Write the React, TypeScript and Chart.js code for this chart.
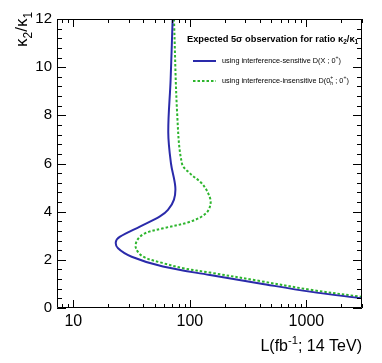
import React, { useEffect, useRef } from 'react';
import { Chart, registerables } from 'chart.js';

Chart.register(...registerables);

// Luminosity (fb^-1) and ratio kappa2/kappa1 for each curve
const blueL = [71.2, 68.4, 65.3, 68.9, 75.0, 73.1, 64.9, 55.4, 37.3, 25.2, 23.2, 24.2, 31.7, 58.8, 148.8, 399, 1072, 3000];
const blueV = [12, 9.47, 7.3, 6.0, 5.04, 4.5, 4.07, 3.8, 3.38, 2.96, 2.75, 2.48, 2.13, 1.72, 1.37, 1.02, 0.68, 0.4];

const greenL = [73.1, 78.0, 85.6, 100.2, 126.3, 143.8, 150.8, 137.5, 100.2, 59.2, 41.2, 35.4, 34.5, 39.8, 59.2, 87.8, 148.8, 399, 1072, 3000];
const greenV = [12, 8, 6.0, 5.59, 5.18, 4.76, 4.35, 3.93, 3.58, 3.31, 3.1, 2.82, 2.48, 2.13, 1.86, 1.65, 1.47, 1.12, 0.76, 0.46];

const xMin = 7.25;
const xMax = 3000;
const yMin = 0;
const yMax = 12;

const xMajorTicks = [10, 100, 1000];
const xMinorTicks = [8, 9, 20, 30, 40, 50, 60, 70, 80, 90, 200, 300, 400, 500, 600, 700, 800, 900, 2000, 3000];
const yMajorTicks = [0, 2, 4, 6, 8, 10, 12];
const yMinorTicks = [0.4, 0.8, 1.2, 1.6, 2.4, 2.8, 3.2, 3.6, 4.4, 4.8, 5.2, 5.6, 6.4, 6.8, 7.2, 7.6, 8.4, 8.8, 9.2, 9.6, 10.4, 10.8, 11.2, 11.6];

const seriesLabels = ['using interference-sensitive D(X ; 0', 'using interference-insensitive D(0'];
const legendTitle = 'Expected 5\u03c3 observation for ratio ';

const FONT = '"Liberation Sans", Arial, Helvetica, sans-serif';

type Part = { t: string; m?: 'sup' | 'sub' | 'supsub' };

function partsWidth(ctx: CanvasRenderingContext2D, parts: Part[], size: number, weight: string) {
  let w = 0;
  for (const p of parts) {
    const s = p.m ? size * 0.7 : size;
    ctx.font = `${weight} ${s}px ${FONT}`;
    if (p.m === 'supsub') {
      w += ctx.measureText(p.t.split('|')[0]).width;
    } else {
      w += ctx.measureText(p.t).width;
    }
  }
  return w;
}

function drawParts(ctx: CanvasRenderingContext2D, x: number, y: number, parts: Part[], size: number, weight: string) {
  let cx = x;
  for (const p of parts) {
    const s = p.m ? size * 0.7 : size;
    ctx.font = `${weight} ${s}px ${FONT}`;
    if (p.m === 'supsub') {
      const [a, b] = p.t.split('|');
      ctx.fillText(a, cx, y - size * 0.42);
      ctx.fillText(b, cx, y + size * 0.3);
      cx += ctx.measureText(a).width;
    } else {
      const dy = p.m === 'sup' ? -size * 0.42 : p.m === 'sub' ? size * 0.3 : 0;
      ctx.fillText(p.t, cx, y + dy);
      cx += ctx.measureText(p.t).width;
    }
  }
  return cx;
}

const rootStyle = {
  id: 'rootStyle',
  afterDatasetsDraw(chart: any) {
    const ctx: CanvasRenderingContext2D = chart.ctx;
    const { left, right, top, bottom } = chart.chartArea;
    const xs = chart.scales.x;
    const ys = chart.scales.y;
    ctx.save();
    ctx.strokeStyle = '#000';
    ctx.lineWidth = 1;
    ctx.beginPath();
    ctx.rect(left + 0.5, top + 0.5, right - left - 1, bottom - top - 1);
    ctx.stroke();

    ctx.beginPath();
    const xt = (v: number, len: number) => {
      const px = Math.round(xs.getPixelForValue(v)) + 0.5;
      ctx.moveTo(px, bottom);
      ctx.lineTo(px, bottom - len);
      ctx.moveTo(px, top);
      ctx.lineTo(px, top + len);
    };
    xMajorTicks.forEach((v) => xt(v, 8));
    xMinorTicks.forEach((v) => xt(v, 4));
    const yt = (v: number, len: number) => {
      const py = Math.round(ys.getPixelForValue(v)) + 0.5;
      ctx.moveTo(left, py);
      ctx.lineTo(left + len, py);
      ctx.moveTo(right, py);
      ctx.lineTo(right - len, py);
    };
    yMajorTicks.forEach((v) => yt(v, 9));
    yMinorTicks.forEach((v) => yt(v, 5));
    ctx.stroke();

    ctx.fillStyle = '#000';
    // y tick labels
    ctx.font = `15px ${FONT}`;
    ctx.textAlign = 'right';
    ctx.textBaseline = 'middle';
    yMajorTicks.forEach((v) => {
      ctx.fillText(String(v), left - 5, ys.getPixelForValue(v));
    });
    // x tick labels
    ctx.textAlign = 'center';
    ctx.textBaseline = 'top';
    ctx.font = `16px ${FONT}`;
    xMajorTicks.forEach((v) => {
      ctx.fillText(String(v), xs.getPixelForValue(v), bottom + 6);
    });

    // x title
    ctx.textAlign = 'left';
    ctx.textBaseline = 'alphabetic';
    const xTitle: Part[] = [{ t: 'L(fb' }, { t: '-1', m: 'sup' }, { t: '; 14 TeV)' }];
    const xw = partsWidth(ctx, xTitle, 16, 'normal');
    drawParts(ctx, right - xw, bottom + 43, xTitle, 16, 'normal');

    // y title (rotated)
    const yTitle: Part[] = [{ t: '\u03ba' }, { t: '2', m: 'sub' }, { t: '/\u03ba' }, { t: '1', m: 'sub' }];
    const yw = partsWidth(ctx, yTitle, 17, 'normal');
    ctx.save();
    ctx.translate(27, 0);
    ctx.rotate(-Math.PI / 2);
    drawParts(ctx, -(top - 7) - yw, 0, yTitle, 17, 'normal');
    ctx.restore();

    // legend
    const lt: Part[] = [{ t: legendTitle }, { t: '\u03ba' }, { t: '2', m: 'sub' }, { t: '/\u03ba' }, { t: '1', m: 'sub' }];
    ctx.textBaseline = 'middle';
    drawParts(ctx, 187, 39, lt, 9.3, 'bold');

    const rows = [61, 81];
    chart.data.datasets.forEach((ds: any, i: number) => {
      const y = rows[i];
      ctx.save();
      ctx.strokeStyle = ds.borderColor;
      ctx.lineWidth = ds.borderWidth;
      ctx.setLineDash(ds.borderDash || []);
      ctx.beginPath();
      ctx.moveTo(193, y);
      ctx.lineTo(216, y);
      ctx.stroke();
      ctx.restore();
      const parts: Part[] =
        i === 0
          ? [{ t: seriesLabels[0] }, { t: '+', m: 'sup' }, { t: ')' }]
          : [{ t: seriesLabels[1] }, { t: '+|h', m: 'supsub' }, { t: ' ; 0' }, { t: '+', m: 'sup' }, { t: ')' }];
      drawParts(ctx, 222, y, parts, 7.3, 'normal');
    });
    ctx.restore();
  },
};

export default function App() {
  const ref = useRef<HTMLCanvasElement | null>(null);
  useEffect(() => {
    if (!ref.current) return;
    const chart = new Chart(ref.current, {
      type: 'scatter',
      data: {
        datasets: [
          {
            label: seriesLabels[0],
            data: blueL.map((x, i) => ({ x, y: blueV[i] })),
            showLine: true,
            borderColor: '#2a2aaa',
            backgroundColor: '#2a2aaa',
            borderWidth: 2,
            pointRadius: 0,
            tension: 0.35,
          },
          {
            label: seriesLabels[1],
            data: greenL.map((x, i) => ({ x, y: greenV[i] })),
            showLine: true,
            borderColor: '#2db52d',
            backgroundColor: '#2db52d',
            borderWidth: 2,
            borderDash: [2.5, 2],
            pointRadius: 0,
            tension: 0.35,
          },
        ],
      },
      options: {
        animation: false,
        responsive: false,
        devicePixelRatio: 1,
        layout: { padding: { left: 57, right: 20, top: 19, bottom: 55 } },
        scales: {
          x: { type: 'logarithmic', min: xMin, max: xMax, display: false },
          y: { type: 'linear', min: yMin, max: yMax, display: false },
        },
        plugins: {
          legend: { display: false },
          tooltip: { enabled: false },
        },
      },
      plugins: [rootStyle],
    });
    return () => chart.destroy();
  }, []);
  return (
    <div style={{ position: 'absolute', left: 0, top: 0, width: 382, height: 363, background: '#fff' }}>
      <canvas ref={ref} width={382} height={363} style={{ display: 'block' }} />
    </div>
  );
}
